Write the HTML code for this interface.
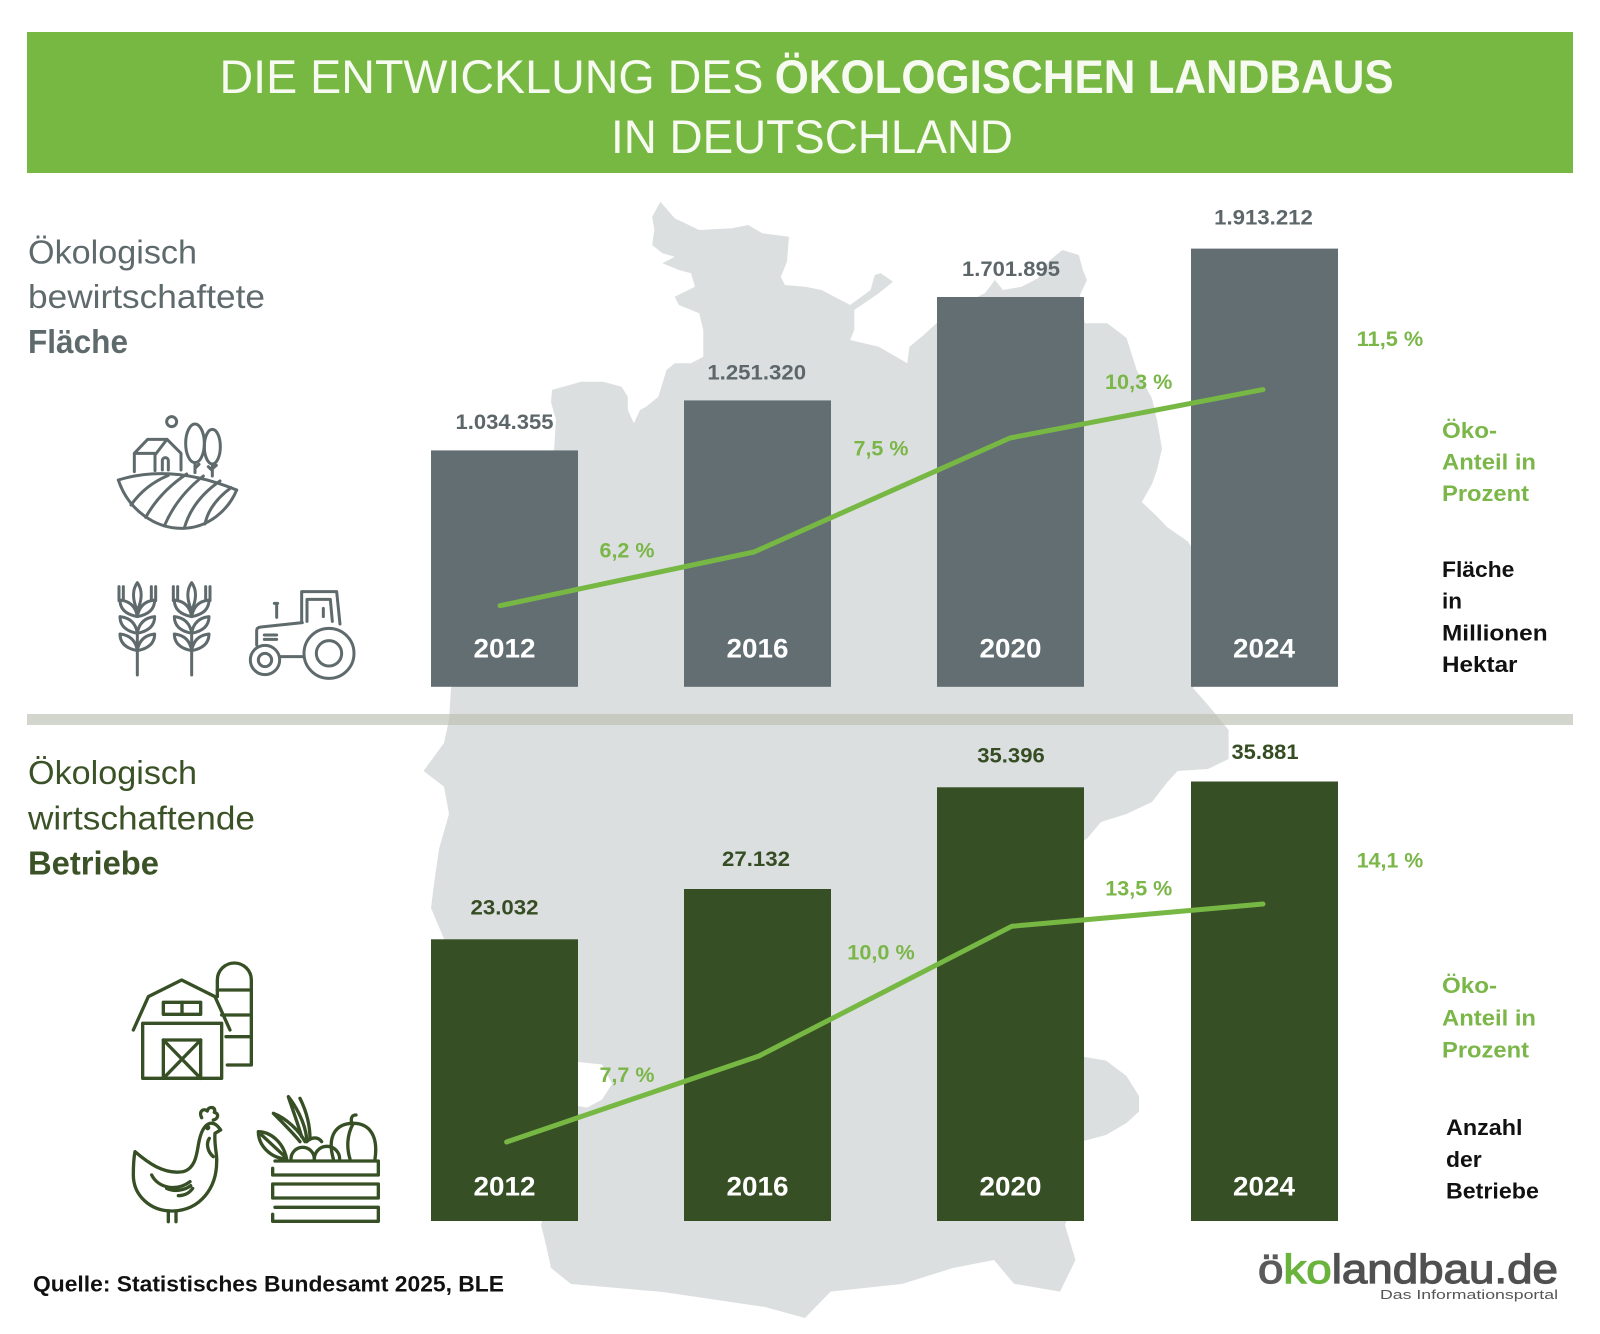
<!DOCTYPE html>
<html><head><meta charset="utf-8"><style>html,body{margin:0;padding:0;background:#fff}svg{display:block}</style></head>
<body>
<svg width="1600" height="1334" viewBox="0 0 1600 1334" xmlns="http://www.w3.org/2000/svg" font-family="'Liberation Sans', sans-serif">
<rect width="1600" height="1334" fill="#fff"/>
<!-- header -->
<rect x="27" y="32" width="1546" height="141" fill="#77b843"/>
<text x="219.5" y="93" font-size="47" fill="#f6faf1" textLength="544" lengthAdjust="spacingAndGlyphs">DIE ENTWICKLUNG DES</text>
<text x="774.7" y="93" font-size="47" font-weight="bold" fill="#f6faf1" textLength="619" lengthAdjust="spacingAndGlyphs">ÖKOLOGISCHEN LANDBAUS</text>
<text x="611" y="153" font-size="47" fill="#f6faf1" textLength="402" lengthAdjust="spacingAndGlyphs">IN DEUTSCHLAND</text>

<!-- map -->
<path fill="#dcdfe0" d="M660.4,201.7 L674.7,218.3 L699.2,230 L731.8,228.3 L748.2,225 L762.4,233.3 L789,236.7 L787,261.7 L780.8,276.7 L784.9,285 L805.3,286.7 L821.6,290 L850.2,305 L870.6,290 L874.7,275 L880.8,273.3 L893,281.7 L878.8,293.3 L854.3,310 L854.3,330 L850.2,340 L878.8,346.7 L907.3,363.3 L909.4,346.7 L923.7,335 L940,320 L960,305 L984.9,293.3 L995,280 L1003,290 L1021.6,286.7 L1038,278.3 L1050,260 L1062.4,250 L1078.8,255 L1082.9,270 L1087,280 L1080,295 L1084.9,323.3 L1107.3,323.3 L1126.5,337.9 L1136.7,370 L1152,398.6 L1157,420 L1162,448.6 L1157,470 L1152,484 L1141.8,502 L1157,516.4 L1167,527 L1187.8,541.4 L1200,560 L1200,680 L1193,688 L1208,705 L1228.6,730 L1228.6,759 L1208,769 L1177.6,771 L1167,782.6 L1152,802 L1126.5,814 L1101,822 L1088,837.5 L1083.7,841 L1075,900 L1075,1050 L1083.7,1056.7 L1106,1060.6 L1126.5,1076 L1139,1096 L1139,1111.5 L1126.5,1123 L1106,1135 L1083.7,1141 L1075,1200 L1065,1225 L1075.5,1260 L1060,1291.6 L1014,1283.8 L994,1260 L953,1268 L902,1284 L830.6,1291.6 L805,1318 L765,1307 L663,1292 L571,1284 L551,1268 L546,1245 L541,1225 L560,1150 L578,1106 L587,1107.6 L602,1099.6 L612,1084 L602,1064.5 L578,1062 L500,1000 L444,939 L431,908 L434,884 L439,849 L449,814 L444,786.6 L423.5,771 L444,743 L449,720 L451,688 L500,560 L554,450 L556,420 L551,402 L552,390 L580.8,381.7 L603.3,381.7 L621.6,386.7 L627.8,396.7 L627.8,410 L633.9,423.3 L640,410 L646,406.7 L658.4,396.7 L662.4,383.3 L666.5,370 L674.7,363.3 L691,363.3 L703.3,356.7 L703.3,330 L699.2,313.3 L678.8,305 L674.7,296.7 L695,286.7 L691,273.3 L678.8,270 L662.4,263.3 L674.7,256.7 L662.4,253.3 L652.2,245 L654.3,230 L652.2,216.7 Z"/>

<!-- separator -->
<rect x="27" y="714" width="1546" height="11" fill="rgb(185,190,174)" fill-opacity="0.63"/>

<!-- TOP headings -->
<g fill="#5f6a6d">
<text x="28" y="263.6" font-size="33" textLength="169" lengthAdjust="spacingAndGlyphs">Ökologisch</text>
<text x="28" y="308" font-size="33" textLength="237" lengthAdjust="spacingAndGlyphs">bewirtschaftete</text>
<text x="28" y="353" font-size="33" font-weight="bold" textLength="100" lengthAdjust="spacingAndGlyphs">Fläche</text>
</g>
<!-- BOTTOM headings -->
<g fill="#3a5226">
<text x="28" y="783.8" font-size="33" textLength="169" lengthAdjust="spacingAndGlyphs">Ökologisch</text>
<text x="28" y="829.6" font-size="33" textLength="227" lengthAdjust="spacingAndGlyphs">wirtschaftende</text>
<text x="28" y="874.7" font-size="33" font-weight="bold" textLength="131" lengthAdjust="spacingAndGlyphs">Betriebe</text>
</g>

<!-- top bars -->
<g fill="#626e71">
<rect x="431" y="450.4" width="147" height="236.4"/>
<rect x="684" y="400.4" width="147" height="286.4"/>
<rect x="937" y="297" width="147" height="389.8"/>
<rect x="1191" y="248.6" width="147" height="438.2"/>
</g>
<!-- bottom bars -->
<g fill="#374f25">
<rect x="431" y="939.3" width="147" height="281.7"/>
<rect x="684" y="889" width="147" height="332"/>
<rect x="937" y="787.3" width="147" height="433.7"/>
<rect x="1191" y="781.5" width="147" height="439.5"/>
</g>

<!-- lines -->
<polyline points="500,605.7 754,552 1010,438 1263,389.6" fill="none" stroke="#76b843" stroke-width="5" stroke-linejoin="round" stroke-linecap="round"/>
<polyline points="506.6,1142 759,1056 1011.7,926.3 1263,904" fill="none" stroke="#76b843" stroke-width="5" stroke-linejoin="round" stroke-linecap="round"/>

<!-- value labels top -->
<g fill="#5d676a" font-size="21" font-weight="bold" text-anchor="middle">
<text x="504.5" y="429" textLength="98" lengthAdjust="spacingAndGlyphs">1.034.355</text>
<text x="756.7" y="379.3" textLength="98.7" lengthAdjust="spacingAndGlyphs">1.251.320</text>
<text x="1011" y="276" textLength="98" lengthAdjust="spacingAndGlyphs">1.701.895</text>
<text x="1263.5" y="224.3" textLength="98.8" lengthAdjust="spacingAndGlyphs">1.913.212</text>
</g>
<!-- value labels bottom -->
<g fill="#364d24" font-size="21" font-weight="bold" text-anchor="middle">
<text x="504.5" y="914.6" textLength="68" lengthAdjust="spacingAndGlyphs">23.032</text>
<text x="756" y="866" textLength="68" lengthAdjust="spacingAndGlyphs">27.132</text>
<text x="1011" y="762.3" textLength="67.5" lengthAdjust="spacingAndGlyphs">35.396</text>
<text x="1265" y="759" textLength="67" lengthAdjust="spacingAndGlyphs">35.881</text>
</g>

<!-- percent labels -->
<g fill="#7ab648" font-size="21" font-weight="bold" text-anchor="middle">
<text x="627" y="557.5" textLength="55" lengthAdjust="spacingAndGlyphs">6,2 %</text>
<text x="881" y="455.7" textLength="55" lengthAdjust="spacingAndGlyphs">7,5 %</text>
<text x="1138.7" y="389" textLength="67.4" lengthAdjust="spacingAndGlyphs">10,3 %</text>
<text x="1390" y="346" textLength="66.5" lengthAdjust="spacingAndGlyphs">11,5 %</text>
<text x="627" y="1082" textLength="55" lengthAdjust="spacingAndGlyphs">7,7 %</text>
<text x="881" y="959.6" textLength="67.4" lengthAdjust="spacingAndGlyphs">10,0 %</text>
<text x="1138.8" y="895.4" textLength="67" lengthAdjust="spacingAndGlyphs">13,5 %</text>
<text x="1390" y="867.6" textLength="66.5" lengthAdjust="spacingAndGlyphs">14,1 %</text>
</g>

<!-- year labels -->
<g fill="#ffffff" font-size="27" font-weight="bold" text-anchor="middle">
<text x="504.5" y="657.5" textLength="62" lengthAdjust="spacingAndGlyphs">2012</text>
<text x="757.5" y="657.5" textLength="62" lengthAdjust="spacingAndGlyphs">2016</text>
<text x="1010.5" y="657.5" textLength="62" lengthAdjust="spacingAndGlyphs">2020</text>
<text x="1264" y="657.5" textLength="62" lengthAdjust="spacingAndGlyphs">2024</text>
<text x="504.5" y="1195.7" textLength="62" lengthAdjust="spacingAndGlyphs">2012</text>
<text x="757.5" y="1195.7" textLength="62" lengthAdjust="spacingAndGlyphs">2016</text>
<text x="1010.5" y="1195.7" textLength="62" lengthAdjust="spacingAndGlyphs">2020</text>
<text x="1264" y="1195.7" textLength="62" lengthAdjust="spacingAndGlyphs">2024</text>
</g>

<!-- right labels -->
<g font-size="22" font-weight="bold">
<g fill="#7ab648">
<text x="1442" y="438" textLength="55" lengthAdjust="spacingAndGlyphs">Öko-</text>
<text x="1442" y="469.5" textLength="94" lengthAdjust="spacingAndGlyphs">Anteil in</text>
<text x="1442" y="501" textLength="87" lengthAdjust="spacingAndGlyphs">Prozent</text>
<text x="1442" y="993" textLength="55" lengthAdjust="spacingAndGlyphs">Öko-</text>
<text x="1442" y="1025.4" textLength="94" lengthAdjust="spacingAndGlyphs">Anteil in</text>
<text x="1442" y="1057.5" textLength="87" lengthAdjust="spacingAndGlyphs">Prozent</text>
</g>
<g fill="#111">
<text x="1442" y="577" textLength="72.4" lengthAdjust="spacingAndGlyphs">Fläche</text>
<text x="1442" y="608.6" textLength="20" lengthAdjust="spacingAndGlyphs">in</text>
<text x="1442" y="640.7" textLength="105.6" lengthAdjust="spacingAndGlyphs">Millionen</text>
<text x="1442" y="671.8" textLength="75.5" lengthAdjust="spacingAndGlyphs">Hektar</text>
<text x="1446" y="1135" textLength="76.5" lengthAdjust="spacingAndGlyphs">Anzahl</text>
<text x="1446" y="1167" textLength="35.7" lengthAdjust="spacingAndGlyphs">der</text>
<text x="1446" y="1198.5" textLength="92.9" lengthAdjust="spacingAndGlyphs">Betriebe</text>
</g>
</g>

<!-- source -->
<text x="33" y="1291.6" font-size="22" font-weight="bold" fill="#111" textLength="471" lengthAdjust="spacingAndGlyphs">Quelle: Statistisches Bundesamt 2025, BLE</text>

<!-- logo -->
<text x="1258" y="1283" font-size="41" textLength="300" lengthAdjust="spacingAndGlyphs" fill="#555" stroke-width="1.2"><tspan fill="#5b5b5b" stroke="#5b5b5b">ö</tspan><tspan fill="#6ab43e" stroke="#6ab43e">ko</tspan><tspan fill="#505050" stroke="#505050">landbau.de</tspan></text>
<text x="1380" y="1299" font-size="13" fill="#555" textLength="178" lengthAdjust="spacingAndGlyphs">Das Informationsportal</text>

<!-- TOP ICONS -->
<g transform="translate(105,400) scale(0.33333)" fill="none" stroke="#5f6a6d" stroke-width="9" stroke-linejoin="round" stroke-linecap="round">
  <circle cx="200" cy="65" r="15"/>
  <path d="M88,215 V160 L128,118 H186 L228,160 V210 M150,165 L186,118 M150,160 V212 M88,160 H150"/>
  <path d="M172,210 V182 A9,9 0 0 1 190,182 V210"/>
  <ellipse cx="270" cy="130" rx="28" ry="58"/>
  <path d="M270,188 V218 M270,205 L282,193"/>
  <ellipse cx="322" cy="140" rx="24" ry="52"/>
  <path d="M322,192 V228 M322,212 L310,200 M322,206 L334,196"/>
  <path d="M40,240 Q200,190 395,270"/>
  <path d="M40,240 C70,330 150,385 230,385 C310,385 370,330 395,270"/>
  <path d="M78,315 Q120,255 190,226"/>
  <path d="M122,352 Q165,275 245,222"/>
  <path d="M178,378 Q215,290 295,228"/>
  <path d="M238,384 Q262,300 345,243"/>
  <path d="M300,372 Q312,312 378,263"/>
  <!-- wheat 1 -->
  <g>
    <path d="M97,700 V825"/>
    <path d="M97,548 Q120,580 97,632 Q74,580 97,548 Z"/>
    <path d="M42,560 V602 M55,560 V596 M139,560 V596 M152,560 V602"/>
    <path d="M97,650 Q45,640 45,600 Q90,605 97,650 Z M97,650 Q149,640 149,600 Q104,605 97,650 Z"/>
    <path d="M97,700 Q45,690 45,650 Q90,655 97,700 Z M97,700 Q149,690 149,650 Q104,655 97,700 Z"/>
    <path d="M97,752 Q45,742 45,702 Q90,707 97,752 Z M97,752 Q149,742 149,702 Q104,707 97,752 Z"/>
  </g>
  <g transform="translate(163,0)">
    <path d="M97,700 V825"/>
    <path d="M97,548 Q120,580 97,632 Q74,580 97,548 Z"/>
    <path d="M42,560 V602 M55,560 V596 M139,560 V596 M152,560 V602"/>
    <path d="M97,650 Q45,640 45,600 Q90,605 97,650 Z M97,650 Q149,640 149,600 Q104,605 97,650 Z"/>
    <path d="M97,700 Q45,690 45,650 Q90,655 97,700 Z M97,700 Q149,690 149,650 Q104,655 97,700 Z"/>
    <path d="M97,752 Q45,742 45,702 Q90,707 97,752 Z M97,752 Q149,742 149,702 Q104,707 97,752 Z"/>
  </g>
  <!-- tractor -->
  <path d="M590,668 V575 H695 L705,672"/>
  <path d="M606,664 V598 H676 L682,664"/>
  <path d="M655,625 V650"/>
  <path d="M455,735 V692 Q455,682 468,681 L592,668"/>
  <path d="M515,612 V652 M508,610 H518"/>
  <path d="M478,705 H515 M478,718 H515"/>
  <circle cx="480" cy="780" r="44"/>
  <circle cx="480" cy="780" r="20"/>
  <circle cx="672" cy="760" r="75"/>
  <circle cx="672" cy="760" r="38"/>
  <path d="M527,770 H594"/>
</g>

<!-- BOTTOM ICONS -->
<g transform="translate(120,955) scale(0.33333)" fill="none" stroke="#374f25" stroke-width="10" stroke-linejoin="round" stroke-linecap="round">
  <path d="M40,225 L85,125 L185,75 L285,125 L330,225"/>
  <rect x="68" y="205" width="237" height="165"/>
  <rect x="130" y="142" width="112" height="36"/>
  <path d="M186,142 V178"/>
  <rect x="130" y="255" width="112" height="115"/>
  <path d="M130,255 L242,370 M242,255 L130,370"/>
  <path d="M292,125 V75 A51,51 0 0 1 394,75 V330 H322"/>
  <path d="M292,105 H394 M305,180 H394 M318,245 H394"/>
  <!-- chicken -->
  <path d="M45,590 C80,620 130,660 190,650 C225,640 230,600 235,570 C240,540 250,510 270,505 C285,502 295,515 302,525 L285,535 C282,570 292,600 290,620 C290,700 240,765 160,768 C90,770 40,720 40,660 C40,630 42,605 45,590 Z"/>
  <path d="M245,488 C235,470 250,458 262,468 C265,452 290,455 283,472 C298,475 295,492 280,495"/>
  <path d="M268,550 C258,565 262,590 280,605"/>
  <path d="M95,660 C115,700 170,710 210,680 M140,700 C165,712 195,705 212,692 M175,722 C195,722 210,712 218,700"/>
  <path d="M145,768 V800 M168,768 V800"/>
  <circle cx="263" cy="518" r="3" fill="#374f25"/>
  <!-- crate -->
  <path d="M465,618 H775 V660 H458 V640"/>
  <path d="M458,687 H775 V729 H458 Z"/>
  <path d="M465,757 H775 V799 H458 V778"/>
  <path d="M640,612 C620,540 650,505 700,505 C750,505 775,545 765,612"/>
  <path d="M700,505 C680,540 680,580 690,612"/>
  <path d="M695,505 Q690,480 708,480"/>
  <path d="M513,612 A35,35 0 0 1 583,612"/>
  <path d="M583,612 A38,38 0 0 1 659,612"/>
  <path d="M415,530 C450,530 490,560 500,612 C450,610 415,570 415,530 Z M425,540 L495,605"/>
  <path d="M555,560 C540,530 500,490 460,475 C490,505 520,535 540,560"/>
  <path d="M560,550 C555,500 525,450 505,425 C520,470 535,510 545,545"/>
  <path d="M570,552 C570,500 555,460 540,430"/>
  <path d="M560,560 C575,545 595,545 605,560"/>
</g>
</svg>
</body></html>
